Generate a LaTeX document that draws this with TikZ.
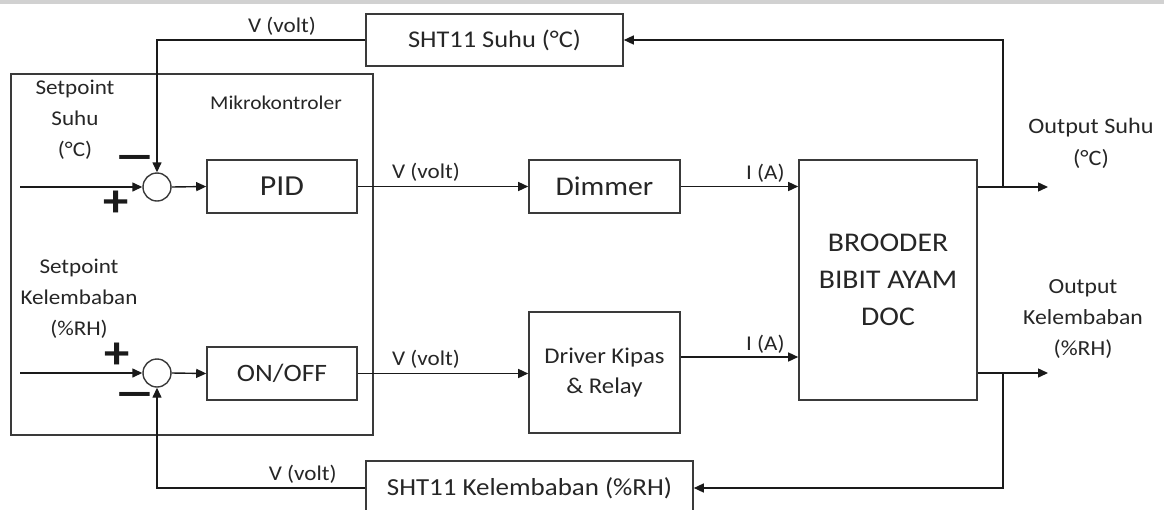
\documentclass[tikz,border=0pt]{standalone}
\usepackage{fontspec}
\setmainfont[FakeStretch=1.1]{Carlito}
\usetikzlibrary{arrows.meta,calc}
\definecolor{txt}{HTML}{262626}
\definecolor{ln}{HTML}{1A1A1A}
\definecolor{bx}{HTML}{3A3A3A}
\begin{document}
\begin{tikzpicture}[x=1pt,y=-1pt,
  blk/.style={draw=bx,line width=1.6pt,rectangle,inner sep=0pt,text=txt,align=center},
  sumc/.style={draw=bx,line width=1.4pt,circle,minimum size=28pt,inner sep=0pt},
  conn/.style={draw=ln,line width=1.4pt,-{Triangle[length=10pt,width=9pt]}},
  plain/.style={draw=ln,line width=1.4pt},
  lbl/.style={text=txt,inner sep=0pt,align=center},
  sgn/.style={text=ln,inner sep=0pt,font=\fontsize{46}{46}\selectfont\bfseries}]
\clip (0,0) rectangle (1164,509);
\fill[white] (0,0) rectangle (1164,509);
\fill[black!18] (0,0) rectangle (1164,4);
% blocks
\node[blk,minimum width=362pt,minimum height=361pt] (mk) at (192,254.5) {};
\node[blk,minimum width=257pt,minimum height=52pt,font=\fontsize{24}{28}\selectfont] (sht1) at (494.5,40) {SHT11 Suhu (\textdegree C)};
\node[blk,minimum width=150pt,minimum height=53pt,font=\fontsize{29}{32}\selectfont] (pid) at (282,186.5) {PID};
\node[blk,minimum width=150pt,minimum height=53pt,font=\fontsize{25}{30}\selectfont] (onoff) at (282,373.5) {ON/OFF};
\node[blk,minimum width=151pt,minimum height=53pt,font=\fontsize{27}{30}\selectfont] (dim) at (604.5,186.5) {Dimmer};
\node[blk,minimum width=151pt,minimum height=121pt,font=\fontsize{22.5}{30}\selectfont] (drv) at (604.5,372.5) {Driver Kipas\\\& Relay};
\node[blk,minimum width=178pt,minimum height=240pt,font=\fontsize{27}{37}\selectfont] (brd) at (888,280) {BROODER\\BIBIT AYAM\\DOC};
\node[blk,minimum width=327pt,minimum height=54pt,font=\fontsize{24.5}{28}\selectfont] (sht2) at (529.5,488) {SHT11 Kelembaban (\%RH)};
\node[sumc] (c1) at (157,187) {};
\node[sumc] (c2) at (157,373) {};
% texts
\node[lbl,font=\fontsize{21}{31}\selectfont] (sps) at (75,120) {Setpoint\\Suhu\\(\textdegree C)};
\node[lbl,font=\fontsize{19.5}{24}\selectfont] (mkt) at (276,103) {Mikrokontroler};
\node[lbl,font=\fontsize{21}{31}\selectfont] (spk) at (79,299) {Setpoint\\Kelembaban\\(\%RH)};
\node[lbl,font=\fontsize{22}{32}\selectfont] (ous) at (1091,143) {Output Suhu\\(\textdegree C)};
\node[lbl,font=\fontsize{21.5}{31}\selectfont] (ouk) at (1083,319) {Output\\Kelembaban\\(\%RH)};
% coordinates
\coordinate (in1) at (20,187);
\coordinate (in2) at (20,373);
\coordinate (o1) at (1048,187);
\coordinate (o2) at (1048,373);
\coordinate (j1) at (1003,187);
\coordinate (j2) at (1003,373);
% upper loop
\draw[conn] (in1) -- (c1.west);
\draw[conn] (c1.east) -- (pid.west);
\draw[conn] (pid.east) -- (dim.west) node[lbl,pos=0.4,above=4pt,font=\fontsize{21}{24}\selectfont] (v2) {V (volt)};
\draw[conn] (dim.east) -- (dim.east -| brd.west) node[lbl,pos=0.72,above=3pt,font=\fontsize{21}{24}\selectfont] (i1) {I (A)};
\draw[conn] (brd.east |- o1) -- (o1);
\draw[conn] (j1) -- (j1 |- sht1.east) -- (sht1.east);
\draw[conn] (sht1.west) -- (c1.north |- sht1.west) node[lbl,pos=0.40,above=4pt,font=\fontsize{21}{24}\selectfont] (v1) {V (volt)} -- (c1.north);
% lower loop
\draw[conn] (in2) -- (c2.west);
\draw[conn] (c2.east) -- (onoff.west);
\draw[conn] (onoff.east) -- (onoff.east -| drv.west) node[lbl,pos=0.4,above=4pt,font=\fontsize{21}{24}\selectfont] (v3) {V (volt)};
\draw[conn] ([yshift=15.5pt]drv.east) -- ([yshift=15.5pt]drv.east -| brd.west) node[lbl,pos=0.72,above=3pt,font=\fontsize{21}{24}\selectfont] (i2) {I (A)};
\draw[conn] (brd.east |- o2) -- (o2);
\draw[conn] (j2) -- (j2 |- sht2.east) -- (sht2.east);
\draw[conn] (sht2.west) -- (c2.south |- sht2.west) node[lbl,pos=0.3,above=4pt,font=\fontsize{21}{24}\selectfont] (v4) {V (volt)} -- (c2.south);
% signs
\node[sgn] (m1) at (135,163) {\scalebox{1.7}[1]{–}};
\node[sgn] (p1) at (116,204) {+};
\node[sgn] (p2) at (117,356) {+};
\node[sgn] (m2) at (135,400) {\scalebox{1.7}[1]{–}};
\end{tikzpicture}
\end{document}
